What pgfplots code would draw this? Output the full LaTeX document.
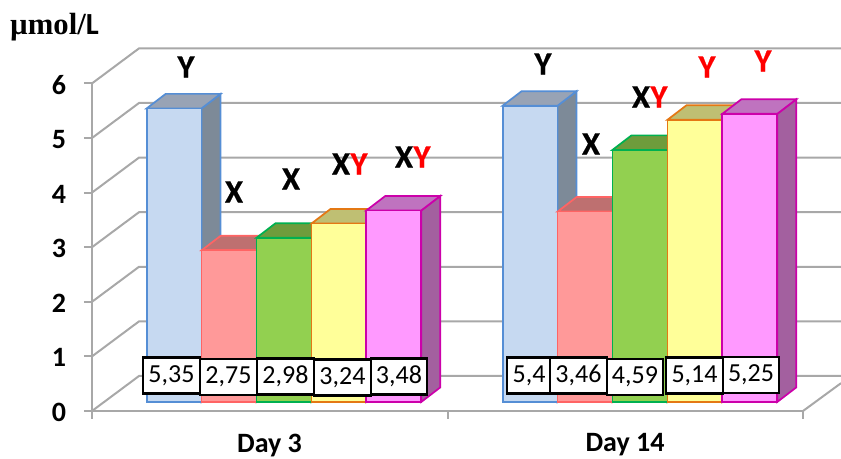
\documentclass[border=0pt]{standalone}
\usepackage{fontspec}
\setmainfont{Carlito}
\newfontfamily\serifbold{Liberation Serif}
\newfontfamily\heavy[UprightFont=* Bold,FakeBold=0.6]{Carlito}
\usepackage{pgfplots}
\pgfplotsset{compat=1.18}

\definecolor{wall}{RGB}{168,168,168}
\definecolor{bluef}{RGB}{198,217,241}
\definecolor{bluee}{RGB}{85,142,213}
\definecolor{blues}{RGB}{125,138,152}
\definecolor{bluet}{RGB}{152,163,181}
\definecolor{redf}{RGB}{255,153,153}
\definecolor{rede}{RGB}{255,100,100}
\definecolor{reds}{RGB}{165,100,100}
\definecolor{redt}{RGB}{190,112,112}
\definecolor{greenf}{RGB}{146,208,80}
\definecolor{greene}{RGB}{0,176,80}
\definecolor{greens}{RGB}{95,135,52}
\definecolor{greent}{RGB}{110,156,60}
\definecolor{yellowf}{RGB}{255,255,153}
\definecolor{yellowe}{RGB}{228,120,20}
\definecolor{yellows}{RGB}{165,165,100}
\definecolor{yellowt}{RGB}{191,191,115}
\definecolor{magf}{RGB}{255,153,255}
\definecolor{mage}{RGB}{204,0,170}
\definecolor{mags}{RGB}{163,96,159}
\definecolor{magt}{RGB}{191,115,191}

% one 3D bar: left edge in px, value, colour prefix
\newcommand{\cuboid}[3]{%
  \pgfmathsetmacro\xa{#1}%
  \pgfmathsetmacro\xb{#1+54.9}%
  \pgfmathsetmacro\xc{#1+54.9+19}%
  \pgfmathsetmacro\xd{#1+19}%
  \pgfmathsetmacro\yb{0.165}%
  \pgfmathsetmacro\yt{#2+0.192}%
  \pgfmathsetmacro\ybb{0.165+0.266}%
  \pgfmathsetmacro\ytt{#2+0.192+0.266}%
  \addplot[draw=#3e,fill=#3s,line width=1.3pt] coordinates {(\xb,\yb) (\xc,\ybb) (\xc,\ytt) (\xb,\yt)} -- cycle;
  \addplot[draw=#3e,fill=#3t,line width=1.3pt] coordinates {(\xa,\yt) (\xb,\yt) (\xc,\ytt) (\xd,\ytt)} -- cycle;
  \addplot[draw=#3e,fill=#3f,line width=1.3pt] coordinates {(\xa,\yb) (\xb,\yb) (\xb,\yt) (\xa,\yt)} -- cycle;
}
% text placed by its centre in px
\newcommand{\sigletter}[3]{\node[font=\fontsize{24.5}{24.5}\selectfont\heavy,inner sep=0pt,anchor=center] at (axis cs:#1,{(411-#2)/54.6}) {#3};}
\newcommand{\valbox}[4]{\node[draw=black,fill=white,line width=1.6pt,inner sep=0pt,minimum width=#3*0.75pt,minimum height=27pt,font=\fontsize{19.5}{19.5}\selectfont] at (axis cs:#1,{(411-#2)/54.6}) {#4};}

\begin{document}
\begin{tikzpicture}
\begin{axis}[
    x=0.75pt, y=40.95pt,
    xmin=92, xmax=803,
    ymin=0, ymax=6,
    axis x line=bottom,
    axis y line=left,
    axis line style={-,draw=wall,line width=1.5pt},
    tick style={draw=wall,line width=1.5pt},
    tick align=outside,
    major tick length=6pt,
    xtick={92,447.5,803},
    xticklabels={},
    extra x ticks={269.5,625},
    extra x tick labels={Day 3,Day 14},
    extra x tick style={major tick length=0pt},
    x tick label style={font=\fontsize{21}{21}\selectfont\bfseries,yshift=-13.5pt},
    ytick={0,1,2,3,4,5,6},
    y tick label style={font=\fontsize{21}{21}\selectfont\bfseries,xshift=-10pt,yshift=-1pt},
    /pgf/number format/assume math mode=true,
    clip=false,
]
% back wall and left wall lines
\addplot[wall,line width=1.5pt] coordinates {(92,0) (139,0.641) (841,0.641)};
\addplot[wall,line width=1.5pt] coordinates {(92,1) (139,1.641) (841,1.641)};
\addplot[wall,line width=1.5pt] coordinates {(92,2) (139,2.641) (841,2.641)};
\addplot[wall,line width=1.5pt] coordinates {(92,3) (139,3.641) (841,3.641)};
\addplot[wall,line width=1.5pt] coordinates {(92,4) (139,4.641) (841,4.641)};
\addplot[wall,line width=1.5pt] coordinates {(92,5) (139,5.641) (841,5.641)};
\addplot[wall,line width=1.5pt] coordinates {(92,6) (139,6.641) (841,6.641)};
\addplot[wall,line width=1.5pt] coordinates {(803,0) (841,0.51)};
% Day 3
\cuboid{146.7}{5.35}{blue}
\cuboid{201.6}{2.75}{red}
\cuboid{256.5}{2.98}{green}
\cuboid{311.4}{3.24}{yellow}
\cuboid{366.3}{3.48}{mag}
% Day 14
\cuboid{502.7}{5.4}{blue}
\cuboid{557.6}{3.46}{red}
\cuboid{612.5}{4.59}{green}
\cuboid{667.4}{5.14}{yellow}
\cuboid{722.3}{5.25}{mag}
% value boxes
\valbox{171.5}{375.5}{57}{5,35}
\valbox{228.5}{377}{57}{2,75}
\valbox{285.5}{376.5}{57}{2,98}
\valbox{342.5}{377.5}{57}{3,24}
\valbox{399}{376.5}{56}{3,48}
\valbox{529}{375.5}{44}{5,4}
\valbox{578.5}{375.5}{57}{3,46}
\valbox{635}{377}{56}{4,59}
\valbox{694.5}{375.5}{57}{5,14}
\valbox{751}{375}{56}{5,25}
% significance letters
\sigletter{186}{67}{Y}
\sigletter{234}{192}{X}
\sigletter{291}{179}{X}
\sigletter{341}{164}{X}
\sigletter{359}{164}{\color{red}Y}
\sigletter{404}{157}{X}
\sigletter{422}{157}{\color{red}Y}
\sigletter{543}{64}{Y}
\sigletter{591}{144}{X}
\sigletter{641}{97}{X}
\sigletter{659}{97}{\color{red}Y}
\sigletter{707}{67}{\color{red}Y}
\sigletter{763}{61}{\color{red}Y}
% unit label
\node[inner sep=0pt,anchor=center] at (axis cs:54.5,{(411-27)/54.6}) {\fontsize{23}{23}\selectfont\serifbold\bfseries µmol/\rmfamily\bfseries L};
\end{axis}
\pgfresetboundingbox
\path[use as bounding box] (-69pt,-36pt) rectangle (561.75pt,308.25pt);
\end{tikzpicture}
\end{document}
